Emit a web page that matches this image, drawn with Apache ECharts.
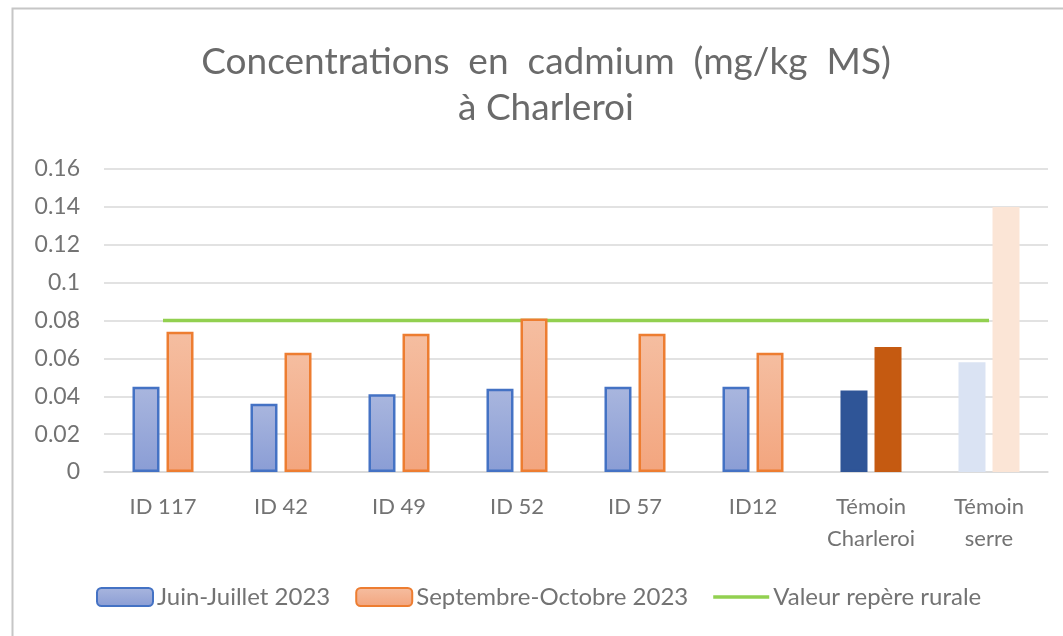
<!DOCTYPE html>
<html>
<head>
<meta charset="utf-8">
<style>
  html, body { margin: 0; padding: 0; background: #fff; }
  #chart { width: 1063px; height: 636px; }
</style>
<script src="https://cdn.jsdelivr.net/npm/echarts@6/dist/echarts.min.js"></script>
</head>
<body>
<div id="chart"></div>
<script>
// données
var categories = ["ID 117", "ID 42", "ID 49", "ID 52", "ID 57", "ID12", "Témoin\nCharleroi", "Témoin\nserre"];
var juinJuillet = [0.045, 0.036, 0.041, 0.044, 0.045, 0.045, 0.043, 0.058];
var septOct = [0.074, 0.063, 0.073, 0.081, 0.073, 0.063, 0.066, 0.14];
var valeurRepere = [0.08, 0.08, 0.08, 0.08, 0.08, 0.08, 0.08, 0.08];

var font = "Lato, 'Open Sans', sans-serif";
var grey = "#737373";

function grad(c1, c2) {
  return new echarts.graphic.LinearGradient(0, 0, 0, 1, [
    { offset: 0, color: c1 },
    { offset: 1, color: c2 },
  ]);
}

// couleurs spéciales pour les témoins
var blueData = juinJuillet.map(function (v, i) {
  if (i === 6) return { value: v, itemStyle: { color: "#2f5597", borderColor: "#2f5597" } };
  if (i === 7) return { value: v, itemStyle: { color: "#dae3f3", borderColor: "#dae3f3" } };
  return v;
});
var orangeData = septOct.map(function (v, i) {
  if (i === 6) return { value: v, itemStyle: { color: "#c55a11", borderColor: "#c55a11" } };
  if (i === 7) return { value: v, itemStyle: { color: "#fbe5d6", borderColor: "#fbe5d6" } };
  return v;
});

const chart = echarts.init(document.getElementById("chart"));
var option = {
  backgroundColor: "#fff",
  animation: false,
  textStyle: { fontFamily: font },
  graphic: [
    {
      type: "rect",
      shape: { x: 12.5, y: 8.5, width: 1070, height: 640 },
      style: { fill: "none", stroke: "#c6c6c6", lineWidth: 2 },
    },
    {
      type: "text",
      x: 546,
      y: 62,
      style: {
        text: "Concentrations  en  cadmium  (mg/kg  MS)",
        fill: "#6a6a6a",
        font: "37px " + font,
        align: "center",
        verticalAlign: "middle",
      },
    },
    {
      type: "text",
      x: 546,
      y: 108,
      style: {
        text: "à Charleroi",
        fill: "#6a6a6a",
        font: "37px " + font,
        align: "center",
        verticalAlign: "middle",
      },
    },
  ],
  legend: {
    left: 96,
    top: 585,
    padding: 0,
    itemWidth: 56,
    itemHeight: 18,
    itemGap: 25,
    textStyle: { color: grey, fontSize: 24, fontFamily: font, padding: [0, 0, 0, -1] },
    data: [
      { name: "Juin-Juillet 2023" },
      { name: "Septembre-Octobre 2023" },
      { name: "Valeur repère rurale", icon: "path://M0,0 L56,0 L56,3.5 L0,3.5 Z" },
    ],
  },
  grid: { left: 104, right: 15, top: 169, bottom: 164 },
  xAxis: {
    type: "category",
    data: categories,
    axisLine: { lineStyle: { color: "#d9d9d9", width: 1.5 } },
    axisTick: { show: false },
    axisLabel: {
      color: grey,
      fontSize: 22,
      lineHeight: 32,
      margin: 19,
      interval: 0,
      fontFamily: font,
    },
  },
  yAxis: {
    type: "value",
    min: 0,
    max: 0.16,
    interval: 0.02,
    axisLine: { show: false },
    axisTick: { show: false },
    splitLine: { lineStyle: { color: "#d9d9d9", width: 1.5 } },
    axisLabel: {
      color: grey,
      fontSize: 23,
      margin: 24,
      fontFamily: font,
      formatter: function (v) {
        return String(+v.toFixed(2));
      },
    },
  },
  series: [
    {
      name: "Juin-Juillet 2023",
      type: "bar",
      barWidth: 27,
      barGap: "26%",
      itemStyle: {
        color: grad("#a9b6de", "#8a9dd5"),
        borderColor: "#4472c4",
        borderWidth: 2.5,
      },
      data: blueData,
    },
    {
      name: "Septembre-Octobre 2023",
      type: "bar",
      barWidth: 27,
      itemStyle: {
        color: grad("#f5bea1", "#f3a57e"),
        borderColor: "#ed7d31",
        borderWidth: 2.5,
      },
      data: orangeData,
    },
    {
      name: "Valeur repère rurale",
      type: "line",
      symbol: "none",
      showSymbol: false,
      lineStyle: { color: "#92d050", width: 3.5 },
      itemStyle: { color: "#92d050" },
      z: 1,
      data: valeurRepere,
    },
  ],
};
chart.setOption(option);
window.onresize = chart.resize;
</script>
</body>
</html>
